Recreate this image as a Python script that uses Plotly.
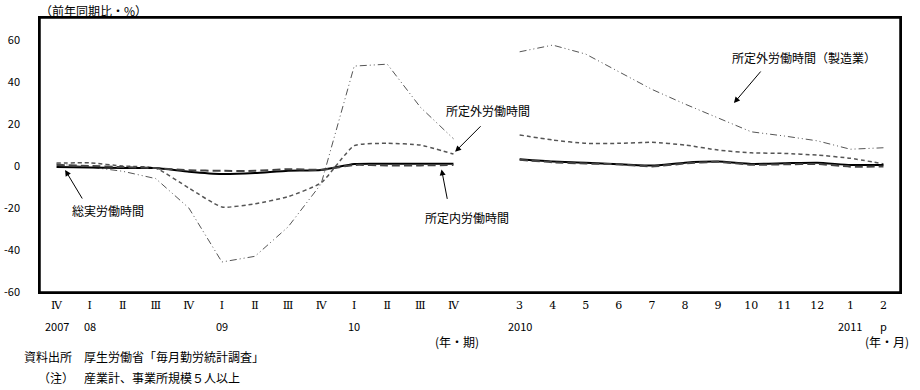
import plotly.graph_objects as go

# ---- data ----
x_labels = ["Ⅳ", "Ⅰ", "Ⅱ", "Ⅲ", "Ⅳ", "Ⅰ", "Ⅱ", "Ⅲ", "Ⅳ", "Ⅰ", "Ⅱ", "Ⅲ", "Ⅳ", "",
            "3", "4", "5", "6", "7", "8", "9", "10", "11", "12", "1", "2"]
year_labels = ["2007", "08", "", "", "", "09", "", "", "", "10", "", "", "", "",
               "2010", "", "", "", "", "", "", "", "", "", "2011", "p"]

total_hours = [-0.5, -0.7, -0.9, -1.0, -2.7, -3.8, -3.3, -2.2, -1.9, 1.0, 1.1, 1.1, 1.1, None,
               3.2, 2.1, 1.6, 0.8, 0.2, 1.6, 2.1, 1.0, 1.3, 1.6, 0.5, 0.5]
scheduled_hours = [0.5, 0.0, -0.5, -1.0, -2.0, -2.3, -2.3, -1.5, -1.8, 0.5, 0.3, 0.3, 0.5, None,
                   3.0, 1.8, 1.2, 0.8, -0.2, 1.2, 2.0, 0.6, 0.8, 1.0, -0.3, -0.2]
overtime_hours = [1.4, 1.5, 0.0, -1.0, -10.5, -19.5, -18.0, -14.6, -8.0, 9.7, 10.8, 10.0, 5.7, None,
                  14.8, 12.4, 10.8, 10.8, 11.3, 10.0, 7.6, 6.3, 6.0, 5.2, 3.7, 1.0]
overtime_mfg = [1.0, -0.5, -2.5, -6.0, -20.0, -45.7, -43.0, -29.0, -8.5, 47.6, 48.5, 28.0, 13.0, None,
                54.4, 57.6, 53.3, 45.0, 36.5, 29.5, 22.8, 16.3, 14.3, 12.0, 8.0, 8.7]

y_ticks = [-60, -40, -20, 0, 20, 40, 60]
y_ticktext = ["-60", "-40", "-20", "0", "20", "40", "60"]

xs = list(range(len(x_labels)))
JP = "Noto Sans CJK JP"

fig = go.Figure()
fig.add_trace(go.Scatter(x=xs, y=overtime_mfg, mode="lines", name="所定外労働時間（製造業）",
                         line=dict(color="#555555", width=1, dash="7px,3px,1px,3px,1px,3px"),
                         connectgaps=False))
fig.add_trace(go.Scatter(x=xs, y=overtime_hours, mode="lines", name="所定外労働時間",
                         line=dict(color="#555555", width=1.5, dash="4px,3px", shape="spline", smoothing=0.5),
                         connectgaps=False))
fig.add_trace(go.Scatter(x=xs, y=total_hours, mode="lines", name="総実労働時間",
                         line=dict(color="black", width=2, shape="spline", smoothing=0.5),
                         connectgaps=False))
fig.add_trace(go.Scatter(x=xs, y=scheduled_hours, mode="lines", name="所定内労働時間",
                         line=dict(color="#444444", width=2, dash="8px,4px", shape="spline", smoothing=0.5),
                         connectgaps=False))

W, H = 920, 390
ML, MR, MT, MB = 40, 20, 18, 98
PW = W - ML - MR
PH = H - MT - MB


def px(xp):
    return (xp - ML) / PW


def py(yp):
    return (H - MB - yp) / PH


ann = []
# second row of x labels (years)
for i, t in enumerate(year_labels):
    if t:
        ann.append(dict(x=i, y=0, xref="x", yref="paper", text=t, showarrow=False,
                        yanchor="middle", yshift=-34, font=dict(family=JP, size=11, color="black")))

# series labels
labels = [
    ("総実労働時間", 1.55, -21.0),
    ("所定内労働時間", 12.4, -24.3),
    ("所定外労働時間", 13.05, 26.3),
    ("所定外労働時間（製造業）", 22.6, 51.5),
]
for t, x, y in labels:
    ann.append(dict(x=x, y=y, xref="x", yref="y", text=t, showarrow=False,
                    font=dict(family=JP, size=12, color="black")))

# arrows
arrows = [
    (0.26, -1.9, 18, 30),
    (11.64, -1.6, 6, 31),
    (12.05, 6.8, 27, -27),
    (20.48, 30.0, 28, -33),
]
for x, y, ax, ay in arrows:
    ann.append(dict(x=x, y=y, xref="x", yref="y", ax=ax, ay=ay, axref="pixel", ayref="pixel",
                    text="", showarrow=True, arrowhead=2, arrowsize=1.2, arrowwidth=1, arrowcolor="black"))

# axis unit labels
ann.append(dict(x=px(38), y=py(10), xref="paper", yref="paper", text="（前年同期比・%）", showarrow=False,
                xanchor="left", yanchor="middle", font=dict(family=JP, size=12, color="black")))
ann.append(dict(x=px(457), y=py(341), xref="paper", yref="paper", text="(年・期)", showarrow=False,
                xanchor="center", yanchor="middle", font=dict(family=JP, size=12, color="black")))
ann.append(dict(x=px(887), y=py(341), xref="paper", yref="paper", text="(年・月)", showarrow=False,
                xanchor="center", yanchor="middle", font=dict(family=JP, size=12, color="black")))

# footnotes
notes = [
    ("資料出所", 22, 357, "left"),
    ("厚生労働省「毎月勤労統計調査」", 82, 357, "left"),
    ("（注）", 76, 377, "right"),
    ("産業計、事業所規模５人以上", 82, 377, "left"),
]
for t, xp, yp, anc in notes:
    ann.append(dict(x=px(xp), y=py(yp), xref="paper", yref="paper", text=t, showarrow=False,
                    xanchor=anc, yanchor="middle", font=dict(family=JP, size=12, color="black")))

fig.update_layout(
    width=W, height=H,
    margin=dict(l=ML, r=MR, t=MT, b=MB, autoexpand=False),
    plot_bgcolor="white", paper_bgcolor="white",
    showlegend=False,
    xaxis=dict(range=[-0.5, 25.5], tickmode="array", tickvals=xs, ticktext=x_labels,
               showline=True, mirror=True, linecolor="black", linewidth=1.5,
               showgrid=False, zeroline=False, ticks="", ticklabelstandoff=2, automargin=False,
               tickfont=dict(family="DejaVu Serif, " + JP, size=11, color="black")),
    yaxis=dict(range=[-60, 70.5], tickmode="array", tickvals=y_ticks, ticktext=y_ticktext,
               showline=True, mirror=True, linecolor="black", linewidth=1.5,
               showgrid=False, zeroline=False, ticks="", ticklabelstandoff=16, automargin=False,
               tickfont=dict(family=JP, size=11, color="black")),
    annotations=ann,
    shapes=[dict(type="rect", xref="paper", yref="paper", x0=0, y0=0, x1=1, y1=1,
                 line=dict(color="black", width=1.5), fillcolor="rgba(0,0,0,0)", layer="above")],
)

fig.write_html("out.html", config={"displayModeBar": False},
               post_script="document.body.style.margin='0';")
